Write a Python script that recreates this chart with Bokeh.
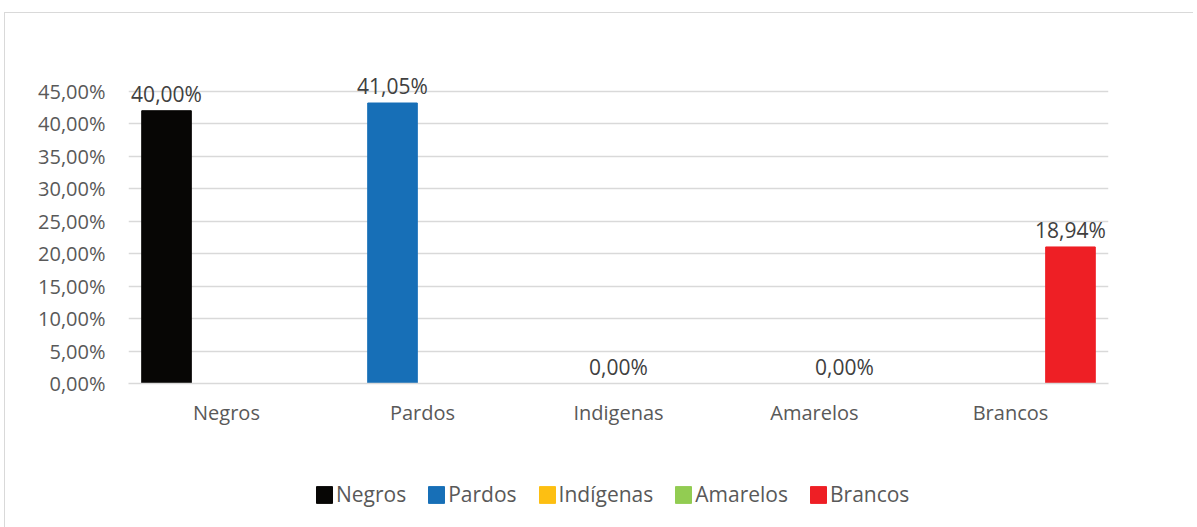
from bokeh.plotting import figure
from bokeh.layouts import column
from bokeh.models import ColumnDataSource, FactorRange, Range1d, FixedTicker, Legend, LegendItem
from bokeh.transform import dodge
from bokeh.core.properties import value
from bokeh.embed import file_html
from bokeh.resources import INLINE

# ---- data ----
categories = ["Negros", "Pardos", "Indigenas", "Amarelos", "Brancos"]
series_names = ["Negros", "Pardos", "Indígenas", "Amarelos", "Brancos"]
bar_values = [42.03, 43.22, 0.0, 0.0, 21.04]          # bar heights as drawn (%)
label_texts = ["40,00%", "41,05%", "0,00%", "0,00%", "18,94%"]
series_colors = ["#070605", "#176fb7", "#fdbf12", "#92cc52", "#ee1f25"]
y_ticks = [0, 5, 10, 15, 20, 25, 30, 35, 40, 45]
y_tick_labels = ["0,00%", "5,00%", "10,00%", "15,00%", "20,00%", "25,00%",
                 "30,00%", "35,00%", "40,00%", "45,00%"]

FONT = "Open Sans"
AXIS_COLOR = "#595959"
GRID_COLOR = "#d9d9d9"

# main chart (offset by (4, 12) to leave room for the chart-area border)
p = figure(x_range=FactorRange(*categories), y_range=Range1d(0, 49),
           frame_width=979, frame_height=317, output_backend="svg", toolbar_location=None,
           min_border_left=123, min_border_right=86, min_border_top=52, min_border_bottom=60)
p.margin = (12, 0, 0, 4)
p.styles = {"border-top": "1px solid #d9d9d9", "border-left": "1px solid #d9d9d9"}
p.outline_line_color = None
p.background_fill_color = "white"
p.border_fill_color = "white"

p.yaxis.ticker = FixedTicker(ticks=y_ticks)
p.yaxis.major_label_overrides = {t: l for t, l in zip(y_ticks, y_tick_labels)}
p.yaxis.axis_line_color = None
p.yaxis.major_tick_line_color = None
p.yaxis.minor_tick_line_color = None
p.yaxis.major_label_standoff = 17
p.yaxis.major_label_text_font = FONT
p.yaxis.major_label_text_font_size = "20px"
p.yaxis.major_label_text_color = AXIS_COLOR

p.xaxis.axis_line_color = GRID_COLOR
p.xaxis.axis_line_width = 1.5
p.xaxis.major_tick_line_color = None
p.xaxis.minor_tick_line_color = None
p.xaxis.major_label_standoff = 9
p.xaxis.major_label_text_font = FONT
p.xaxis.major_label_text_font_size = "20px"
p.xaxis.major_label_text_color = AXIS_COLOR

p.xgrid.grid_line_color = None
p.ygrid.grid_line_color = GRID_COLOR
p.ygrid.grid_line_width = 1.5

# legend strip below the chart (shares the data; its y window shows no bars)
lf = figure(width=1193, height=98, x_range=p.x_range, y_range=Range1d(100, 101),
            output_backend="svg", toolbar_location=None,
            min_border_left=0, min_border_right=0, min_border_top=0, min_border_bottom=0)
lf.margin = (0, 0, 0, 4)
lf.styles = {"border-left": "1px solid #d9d9d9"}
lf.axis.visible = False
lf.grid.grid_line_color = None
lf.outline_line_color = None
lf.background_fill_color = "white"
lf.border_fill_color = "white"

n = len(categories)
step = 0.153
bar_w = 0.253
items = []
for i in range(n):
    src = ColumnDataSource(dict(cat=[categories[i]], val=[bar_values[i]], lab=[label_texts[i]]))
    off = (i - (n - 1) / 2) * step
    p.vbar(x=dodge("cat", off, range=p.x_range), top="val", width=bar_w, source=src,
           fill_color=series_colors[i], line_color=series_colors[i])
    p.text(x=dodge("cat", off, range=p.x_range), y="val", text="lab", source=src,
           text_align="center", text_baseline="bottom", y_offset=-3,
           text_font=value(FONT), text_font_size="21px", text_color="#404040")
    r = lf.vbar(x=dodge("cat", off, range=p.x_range), top="val", width=bar_w, source=src,
                fill_color=series_colors[i], line_color=series_colors[i])
    items.append(LegendItem(label=series_names[i], renderers=[r]))

legend = Legend(items=items, orientation="horizontal", location=(186, 32),
                glyph_width=20, glyph_height=21, label_standoff=2, spacing=20,
                padding=0, margin=0, border_line_color=None, background_fill_alpha=0,
                label_text_font=FONT, label_text_font_size="21px", label_text_color=AXIS_COLOR,
                label_height=21)
lf.add_layout(legend, "center")

layout = column(p, lf, spacing=0)
open("out.html", "w").write(file_html(layout, INLINE))
